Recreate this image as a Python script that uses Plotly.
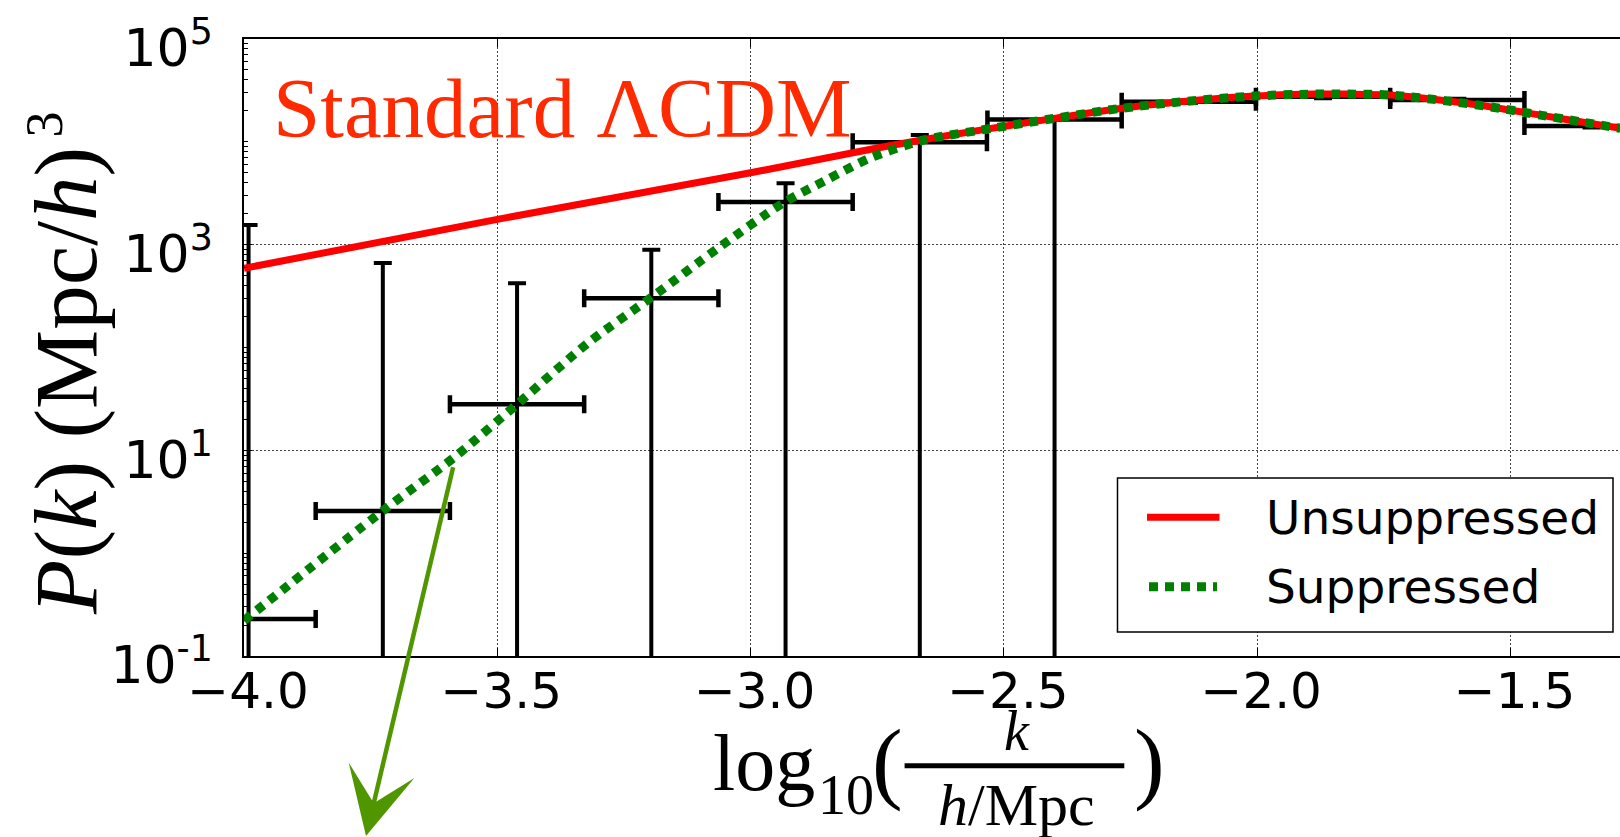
import numpy as np
import plotly.graph_objects as go

# ---------------- data ----------------
# binned measurements: log10(k / (h/Mpc)) bin centres, half widths, P(k) and error bounds
logk_bin_centers = [-3.991, -3.726, -3.461, -3.196, -2.931, -2.666, -2.400, -2.135, -1.870, -1.605, -1.340]
logk_bin_halfwidth = [0.1325, 0.1325, 0.1325, 0.1325, 0.1325, 0.1325, 0.1325, 0.1325, 0.1325, 0.1325, 0.1325]
pk_measured = [0.229, 2.57, 28.0, 300.6, 2595, 9880, 16500, 24500, 27400, 25500, 14230]
pk_upper_bound = [1549, 662, 421, 892, 3945, 11640, 17000, 25200, 28200, 26200, 14650]
pk_lower_bound = [0, 0, 0, 0, 0, 0, 0, 23800, 26600, 24800, 13800]

# theory curves
logk_unsup = [-4.0, -3.5, -3.0, -2.75, -2.645, -2.546, -2.401, -2.270, -2.151, -2.007,
              -1.888, -1.822, -1.737, -1.611, -1.520, -1.441, -1.362, -1.283]
pk_unsup = [589, 1762, 5000, 8710, 10790, 13000, 16900, 21130, 24490, 27860,
            29110, 29110, 28510, 24490, 21130, 18200, 15670, 13520]

logk_sup = [-4.0, -3.724, -3.5875, -3.459, -3.322, -3.194, -3.065, -2.937, -2.851, -2.766,
            -2.672, -2.645, -2.546, -2.401, -2.270, -2.151, -2.007,
            -1.888, -1.822, -1.737, -1.611, -1.520, -1.441, -1.362, -1.283]
pk_sup = [0.221, 2.63, 8.36, 28.6, 109.6, 311.9, 920, 2518, 4246, 6902,
          10000, 10790, 13000, 16900, 21130, 24490, 27860,
          29110, 29110, 28510, 24490, 21130, 18200, 15670, 13520]

x_tick_vals = [-4.0, -3.5, -3.0, -2.5, -2.0, -1.5]
x_tick_text = ["\u22124.0", "\u22123.5", "\u22123.0", "\u22122.5", "\u22122.0", "\u22121.5"]
y_tick_vals = [1e-1, 1e1, 1e3, 1e5]
y_tick_text = ["10<sup>-1</sup>", "10<sup>1</sup>", "10<sup>3</sup>", "10<sup>5</sup>"]
legend_labels = ["Unsuppressed", "Suppressed"]
title_text = "Standard \u039bCDM"

# ---------------- layout geometry ----------------
FIG_W, FIG_H = 1620, 837
L, T, R, B = 244, 39, 0, 181
W = FIG_W - L - R
H = FIG_H - T - B
X_RANGE = [-4.0, -4.0 + W / 506.6]
Y_RANGE = [-1, 5]

SERIF = "Liberation Serif"
SANS = "DejaVu Sans"
RED = "#ff0000"
GREEN = "#008000"
TITLE_RED = "#ff2a00"
ARROW_GREEN = "#509600"


def fx(px):
    return (px - L) / W


def fy(py):
    return (T + H - py) / H


def serif_mid(baseline, size):
    return baseline - 0.3375 * size


def sans_mid(baseline, size):
    return baseline - 0.346 * size


fig = go.Figure()

# error bars (lower bounds <= 0 fall off the bottom of the log axis)
y = np.array(pk_measured, dtype=float)
up = np.array(pk_upper_bound, dtype=float) - y
lo = y - np.maximum(np.array(pk_lower_bound, dtype=float), 1e-4)

fig.add_trace(go.Scatter(
    x=logk_bin_centers, y=pk_measured, mode="markers",
    marker=dict(size=0, color="rgba(0,0,0,0)"),
    error_x=dict(type="data", array=logk_bin_halfwidth, symmetric=True,
                 color="black", thickness=4.5, width=9),
    error_y=dict(type="data", array=up, arrayminus=lo, symmetric=False,
                 color="black", thickness=4, width=9),
    showlegend=False, hoverinfo="skip"))

fig.add_trace(go.Scatter(
    x=logk_unsup, y=pk_unsup, mode="lines", name=legend_labels[0],
    line=dict(color=RED, width=7, shape="spline", smoothing=0.8),
    showlegend=False))

fig.add_trace(go.Scatter(
    x=logk_sup, y=pk_sup, mode="lines", name=legend_labels[1],
    line=dict(color=GREEN, width=9, dash="8.5px,7.5px", shape="spline", smoothing=0.8),
    showlegend=False))

axis_common = dict(showline=True, linecolor="black", linewidth=1.5,
                   ticks="inside", tickcolor="black", tickwidth=1.2,
                   showgrid=True, gridcolor="#444444", gridwidth=1,
                   griddash="1.5px,2.5px", zeroline=False, automargin=False)

fig.update_xaxes(range=X_RANGE, tickmode="array", tickvals=x_tick_vals, ticktext=x_tick_text,
                 ticklen=8, mirror="ticks", ticklabelshift=4, ticklabelstandoff=-10,
                 ticklabeloverflow="allow",
                 tickfont=dict(family=SANS, size=50, color="black"), **axis_common)
fig.update_yaxes(type="log", range=Y_RANGE, tickmode="array", tickvals=y_tick_vals,
                 ticktext=y_tick_text, ticklen=8, mirror=False,
                 ticklabelstandoff=19, ticklabelshift=9, ticklabeloverflow="allow",
                 tickfont=dict(family=SANS, size=52, color="black"),
                 minor=dict(ticks="inside", ticklen=4, tickcolor="black", dtick="D1", showgrid=False),
                 **axis_common)

shapes = []
# x-axis label fraction bar
shapes.append(dict(type="line", xref="paper", yref="paper",
                   x0=fx(904.6), x1=fx(1124.3), y0=fy(765.7), y1=fy(765.7),
                   line=dict(color="black", width=5)))
# legend box and samples
shapes.append(dict(type="rect", xref="paper", yref="paper", layer="above",
                   x0=fx(1117.5), x1=fx(1613), y0=fy(632), y1=fy(478),
                   line=dict(color="black", width=1.5), fillcolor="white"))
shapes.append(dict(type="line", xref="paper", yref="paper", layer="above",
                   x0=fx(1147), x1=fx(1219.5), y0=fy(517.3), y1=fy(517.3),
                   line=dict(color=RED, width=7)))
shapes.append(dict(type="line", xref="paper", yref="paper", layer="above",
                   x0=fx(1149), x1=fx(1217), y0=fy(586.7), y1=fy(586.7),
                   line=dict(color=GREEN, width=9, dash="9px,7px")))

ann = []


def text(t, x, y, size, family, color="black", xanchor="left", angle=0):
    ann.append(dict(text=t, x=x, y=y, xref="paper", yref="paper", showarrow=False,
                    xanchor=xanchor, yanchor="middle", textangle=angle,
                    font=dict(family=family, size=size, color=color),
                    borderpad=0, borderwidth=0))


# title inside plot
text(title_text, fx(273), fy(serif_mid(136.7, 85)), 85, SERIF, TITLE_RED)
# legend texts
text(legend_labels[0], fx(1266), fy(sans_mid(534, 47)), 47, SANS)
text(legend_labels[1], fx(1266), fy(sans_mid(603, 47)), 47, SANS)
# x-axis label: log10( k / (h/Mpc) )
text("log", fx(713), fy(serif_mid(790, 80)), 80, SERIF)
text("10", fx(818), fy(serif_mid(814, 56)), 56, SERIF)
text("(", fx(872), fy(serif_mid(792, 92)), 92, SERIF)
text("<i>k</i>", fx(1017), fy(serif_mid(750, 56)), 56, SERIF, xanchor="center")
text("<i>h</i>/Mpc", fx(1016), fy(serif_mid(825, 60)), 60, SERIF, xanchor="center")
text(")", fx(1134), fy(serif_mid(792, 92)), 92, SERIF)
# y-axis label: P(k) (Mpc/h)^3, rotated
text("<i>P</i>(<i>k</i>) (Mpc/<i>h</i>)", fx(96 - 0.3375 * 89), fy(381), 89, SERIF,
     xanchor="center", angle=-90)
text("3", fx(62 - 0.3375 * 52), fy(124), 52, SERIF, xanchor="center", angle=-90)

# arrow from the suppressed curve down out of the frame
ann.append(dict(text="", x=fx(366), y=fy(838), xref="paper", yref="paper",
                ax=453.5 - 366, ay=465.7 - 838, axref="pixel", ayref="pixel",
                showarrow=True, arrowhead=3, arrowsize=2.5, arrowwidth=4.5,
                arrowcolor=ARROW_GREEN, standoff=0))

fig.update_layout(width=FIG_W, height=FIG_H,
                  margin=dict(l=L, r=R, t=T, b=B, pad=0, autoexpand=False),
                  paper_bgcolor="white", plot_bgcolor="white",
                  showlegend=False, shapes=shapes, annotations=ann)

fig.write_html("out.html", config={"displayModeBar": False})
